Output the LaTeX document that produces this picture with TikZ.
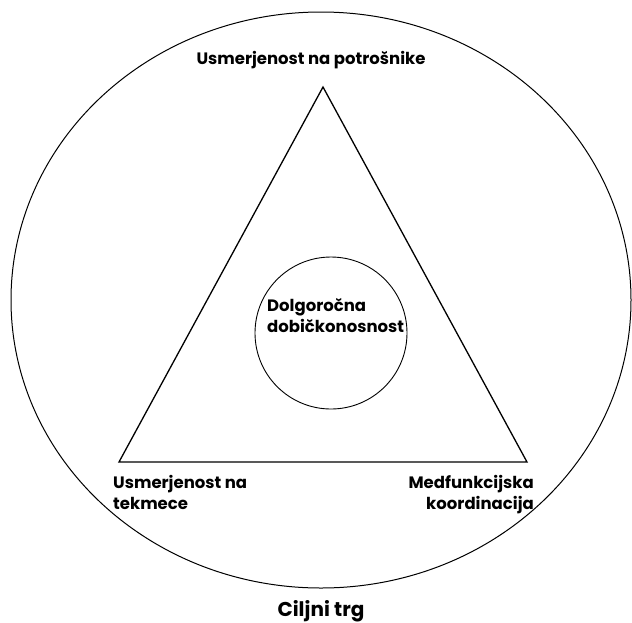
\documentclass[tikz,border=0pt]{standalone}
\usepackage{fontspec}
\setmainfont{Poppins}
\usepackage{tikz}
\usetikzlibrary{positioning}
\definecolor{MarketInk}{HTML}{000000}

\begin{document}
\begin{tikzpicture}[x=1pt,y=-1pt,
    labeltext/.style={font=\bfseries\fontsize{16.5}{21}\selectfont,
      inner sep=0pt,MarketInk}]
  \useasboundingbox (0,0) rectangle (632,622);

  % Target market.
  \draw[MarketInk,line width=1pt] (321,300) ellipse (310 and 288);
  \node[labeltext,font=\bfseries\fontsize{20}{24}\selectfont,anchor=north]
    (market) at (321,600) {Ciljni trg};

  % Three pillars.
  \coordinate (customer) at (323,87);
  \coordinate (competitor) at (119,462);
  \coordinate (coordination) at (527,462);
  \draw[MarketInk,line width=1.3pt,line join=miter]
    (customer) -- (competitor) -- (coordination) -- cycle;
  \node[labeltext,anchor=north] (customerlabel) at (311,51)
    {Usmerjenost na potrošnike};
  \node[labeltext,anchor=north west,align=left] (competitorlabel) at (113,475)
    {Usmerjenost na\\tekmece};
  \node[labeltext,anchor=north east,align=right] (coordinationlabel) at (534,475)
    {Medfunkcijska\\koordinacija};

  % Goal.
  \node[draw=MarketInk,line width=0.9pt,circle,minimum size=152pt,inner sep=0pt]
    (profit) at (331,333) {};
  \node[labeltext,anchor=north west,align=left] (profitlabel) at (267,298)
    {Dolgoročna\\dobičkonosnost};
\end{tikzpicture}
\end{document}
